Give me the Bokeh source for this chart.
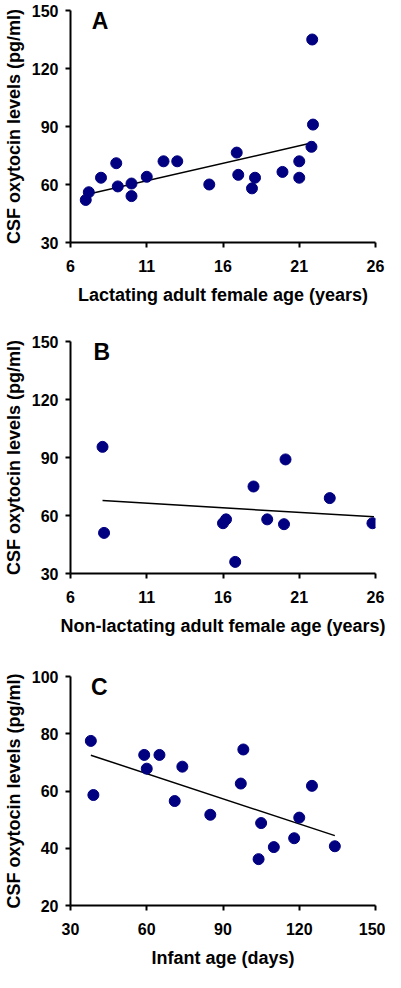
from bokeh.plotting import figure
from bokeh.models import Range1d, FixedTicker, Label
from bokeh.layouts import column
from bokeh.embed import file_html
from bokeh.resources import INLINE

# Panel A: lactating adult females
a_age = [7.0, 7.2, 8.0, 9.0, 9.1, 10.0, 10.0, 11.0, 12.1, 13.0, 15.1, 16.9, 17.0, 17.9, 18.1, 19.9, 21.0, 21.0, 21.8, 21.9, 21.85]
a_oxt = [52, 56, 63.5, 71, 59, 60.5, 54, 64, 72, 72, 60, 76.5, 65, 58, 63.5, 66.5, 72, 63.5, 79.5, 91, 135]
a_trend_x = [7.2, 22.0]
a_trend_y = [55.1, 81.8]

# Panel B: non-lactating adult females
b_age = [8.1, 8.2, 16.0, 16.2, 16.8, 18.0, 18.9, 20.1, 20.0, 23.0, 25.8]
b_oxt = [95.5, 51, 56, 58, 36, 75, 58, 89, 55.5, 69, 56]
b_trend_x = [8.1, 25.9]
b_trend_y = [67.7, 59.3]

# Panel C: infants
c_age = [38, 39, 59, 60, 65, 71, 74, 85, 97, 98, 104, 105, 110, 118, 120, 125, 134]
c_oxt = [77.5, 58.6, 72.6, 67.8, 72.6, 56.5, 68.5, 51.7, 62.6, 74.5, 36.2, 48.8, 40.4, 43.5, 50.7, 61.8, 40.7]
c_trend_x = [38, 134]
c_trend_y = [72.5, 44.4]

ab_xticks = [6, 11, 16, 21, 26]
ab_yticks = [30, 60, 90, 120, 150]
c_xticks = [30, 60, 90, 120, 150]
c_yticks = [20, 40, 60, 80, 100]

Y_LABEL = "CSF oxytocin levels (pg/ml)"
FONT = "Liberation Sans"
DOT = "#000080"


def panel(xs, ys, tx, ty, xr, yr, xticks, yticks, xlabel, letter, lx, ly,
          height, top, bottom):
    p = figure(width=385, height=height, output_backend="svg", toolbar_location=None,
               x_range=Range1d(*xr), y_range=Range1d(*yr),
               min_border_left=66, min_border_right=10,
               min_border_top=top, min_border_bottom=bottom)
    p.outline_line_color = None
    p.grid.visible = False
    p.background_fill_color = "white"
    p.border_fill_color = "white"
    p.line(tx, ty, color="black", line_width=1.5)
    p.scatter(xs, ys, size=11, color=DOT, line_color=DOT)
    p.xaxis.ticker = FixedTicker(ticks=xticks)
    p.yaxis.ticker = FixedTicker(ticks=yticks)
    p.xaxis.axis_label = xlabel
    p.yaxis.axis_label = Y_LABEL
    for ax in (p.xaxis[0], p.yaxis[0]):
        ax.axis_line_width = 2
        ax.axis_line_color = "black"
        ax.major_tick_line_width = 2
        ax.major_tick_line_color = "black"
        ax.major_tick_out = 5
        ax.major_tick_in = 0
        ax.minor_tick_out = 0
        ax.minor_tick_in = 0
        ax.major_label_text_font = FONT
        ax.major_label_text_font_style = "bold"
        ax.major_label_text_font_size = "16px"
        ax.major_label_text_color = "black"
        ax.axis_label_text_font = FONT
        ax.axis_label_text_font_style = "bold"
        ax.axis_label_text_font_size = "18px"
        ax.axis_label_text_color = "black"
    p.xaxis.major_label_standoff = 12
    p.xaxis.axis_label_standoff = 10
    p.yaxis.major_label_standoff = 7
    p.yaxis.axis_label_standoff = 5
    p.add_layout(Label(x=lx, y=ly, text=letter, text_font=FONT, text_font_style="bold",
                       text_font_size="23px", text_baseline="top", text_color="black"))
    return p


pa = panel(a_age, a_oxt, a_trend_x, a_trend_y, (6, 26), (30, 150), ab_xticks, ab_yticks,
           "Lactating adult female age (years)", "A", 7.4, 151.5, 322, 10, 80)
pb = panel(b_age, b_oxt, b_trend_x, b_trend_y, (6, 26), (30, 150), ab_xticks, ab_yticks,
           "Non-lactating adult female age (years)", "B", 7.5, 151.5, 322, 19, 71)
pc = panel(c_age, c_oxt, c_trend_x, c_trend_y, (30, 150), (20, 100), c_xticks, c_yticks,
           "Infant age (days)", "C", 38.1, 100.8, 326, 32, 62)

layout = column(pa, pb, pc, spacing=0)
open("out.html", "w").write(file_html(layout, INLINE))
